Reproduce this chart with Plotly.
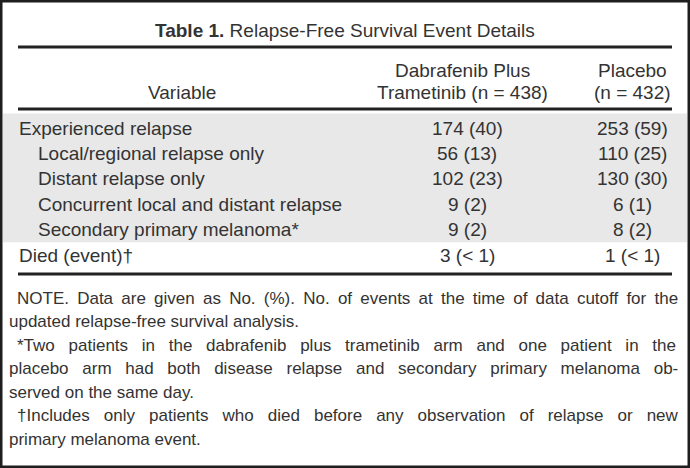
import plotly.graph_objects as go

# ---------------- data ----------------
title_bold = "Table 1."
title_rest = "Relapse-Free Survival Event Details"
header_variable = "Variable"
header_dab = ["Dabrafenib Plus", "Trametinib (n = 438)"]
header_pla = ["Placebo", "(n = 432)"]

row_labels = [
    "Experienced relapse",
    "Local/regional relapse only",
    "Distant relapse only",
    "Concurrent local and distant relapse",
    "Secondary primary melanoma*",
    "Died (event)\u2020",
]
row_indent = [0, 1, 1, 1, 1, 0]
row_shaded = [1, 1, 1, 1, 1, 0]
dab_values = ["174 (40)", "56 (13)", "102 (23)", "9 (2)", "9 (2)", "3 (< 1)"]
pla_values = ["253 (59)", "110 (25)", "130 (30)", "6 (1)", "8 (2)", "1 (< 1)"]

note_lines = [
    "NOTE. Data are given as No. (%). No. of events at the time of data cutoff for the",
    "updated relapse-free survival analysis.",
    "*Two patients in the dabrafenib plus trametinib arm and one patient in the",
    "placebo arm had both disease relapse and secondary primary melanoma ob-",
    "served on the same day.",
    "\u2020Includes only patients who died before any observation of relapse or new",
    "primary melanoma event.",
]
note_para_start = [1, 0, 1, 0, 0, 1, 0]
note_wordspace = [3.5, 0, 9.0, 9.0, 0, 9.3, 0]

# ---------------- layout constants ----------------
W, H = 690, 468
FONT = "Liberation Sans, Arial, Helvetica, sans-serif"
TXT = "#333333"
LINE = "#222222"
FS = 19
NFS = 17

x_left, x_right = 18, 672
x_col1, x_col2 = 467, 632
y_title = 30
y_rule1, y_rule2, y_rule3 = 47, 109, 274
y_head = [70, 92]
y_row0, row_h = 128, 25.4
y_note0, note_h = 298, 23.5


def esc(s):
    return s.replace("&", "&amp;").replace("<", "&lt;").replace(">", "&gt;")


fig = go.Figure()
ann = []
shapes = []

# frame
shapes.append(dict(type="rect", xref="x", yref="y", x0=1, x1=W - 1, y0=1, y1=H - 1,
                   line=dict(color="#1e1e1e", width=3), layer="above"))

# shaded band
shaded_idx = [i for i, s in enumerate(row_shaded) if s]
band_top = y_rule2 + 4.5
band_bot = y_row0 + row_h * (max(shaded_idx) + 0.5)
shapes.append(dict(type="rect", xref="x", yref="y", x0=3, x1=W - 3, y0=band_top, y1=band_bot,
                   fillcolor="#e8e8e8", line=dict(width=0), layer="below"))

for y in (y_rule1, y_rule2, y_rule3):
    shapes.append(dict(type="line", xref="x", yref="y", x0=x_left, x1=x_right, y0=y, y1=y,
                       line=dict(color=LINE, width=3)))

base = dict(xref="x", yref="y", showarrow=False, font=dict(family=FONT, size=FS, color=TXT))

ann.append(dict(base, x=W / 2, y=y_title, xanchor="center", yanchor="middle",
                text="<b>" + esc(title_bold) + "</b> " + esc(title_rest)))

ann.append(dict(base, x=182, y=y_head[1], xanchor="center", yanchor="middle", text=header_variable))
for j, t in enumerate(header_dab):
    ann.append(dict(base, x=x_col1 - 5, y=y_head[j], xanchor="center", yanchor="middle", text=esc(t)))
for j, t in enumerate(header_pla):
    ann.append(dict(base, x=x_col2, y=y_head[j], xanchor="center", yanchor="middle", text=esc(t)))

for i, lab in enumerate(row_labels):
    y = y_row0 + row_h * i
    ann.append(dict(base, x=x_left - 1 + 19 * row_indent[i], y=y, xanchor="left", yanchor="middle",
                    text=esc(lab)))
    ann.append(dict(base, x=x_col1, y=y, xanchor="center", yanchor="middle", text=esc(dab_values[i])))
    ann.append(dict(base, x=x_col2, y=y, xanchor="center", yanchor="middle", text=esc(pla_values[i])))

for k, line in enumerate(note_lines):
    y = y_note0 + note_h * k
    txt = esc(line)
    if note_wordspace[k]:
        txt = '<span style="word-spacing:%.1fpx">%s</span>' % (note_wordspace[k], txt)
    ann.append(dict(base, x=7 + 8 * note_para_start[k], y=y, xanchor="left", yanchor="middle",
                    text=txt, font=dict(family=FONT, size=NFS, color=TXT)))

fig.update_layout(
    width=W, height=H,
    margin=dict(l=0, r=0, t=0, b=0),
    paper_bgcolor="white", plot_bgcolor="white",
    xaxis=dict(range=[0, W], visible=False, fixedrange=True),
    yaxis=dict(range=[H, 0], visible=False, fixedrange=True),
    shapes=shapes, annotations=ann, showlegend=False,
)
fig.write_html("out.html", config={"displayModeBar": False},
               post_script="document.body.style.margin='0';document.body.style.padding='0';")
